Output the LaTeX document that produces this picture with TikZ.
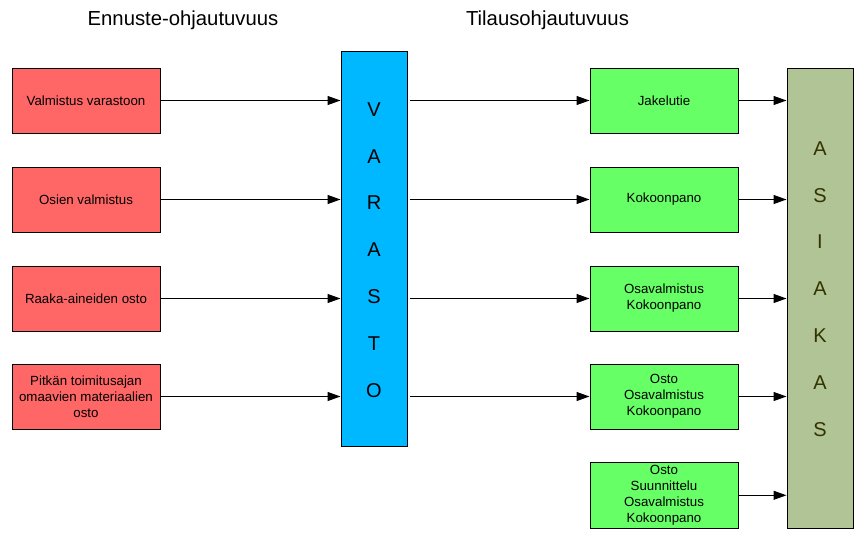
\documentclass[tikz,border=0pt]{standalone}
\usepackage{fontspec}
\setmainfont{Liberation Sans}
\usetikzlibrary{arrows.meta}
\definecolor{redbox}{RGB}{255,102,102}
\definecolor{bluebox}{RGB}{0,184,255}
\definecolor{greenbox}{RGB}{102,255,102}
\definecolor{olivebox}{RGB}{176,196,150}
\definecolor{olivetext}{RGB}{51,51,0}
\tikzset{
  x=1pt, y=-1pt,
  box/.style={draw=black, line width=1pt, minimum width=148pt, minimum height=65pt,
    inner sep=0pt, align=center, font=\fontsize{13.3}{16}\selectfont},
  redstep/.style={box, fill=redbox},
  greenstep/.style={box, fill=greenbox},
  tallbox/.style={draw=black, line width=1pt, minimum width=66pt, inner sep=0pt},
  letters/.style={align=center, inner sep=0pt, font=\fontsize{20}{46.8}\selectfont},
  header/.style={anchor=base, inner sep=0pt, font=\fontsize{20.3}{24}\selectfont},
  arr/.style={line width=1pt, -{Triangle[length=13pt,width=9pt]}}
}
\begin{document}
\begin{tikzpicture}
\useasboundingbox (0,0) rectangle (867,549);
% headers
\node[header] (h1) at (183,25) {Ennuste-ohjautuvuus};
\node[header] (h2) at (547.5,25) {Tilausohjautuvuus};
% left boxes
\node[redstep] (l1) at (86,100.5) {Valmistus varastoon};
\node[redstep] (l2) at (86,199.5) {Osien valmistus};
\node[redstep] (l3) at (86,298.5) {Raaka-aineiden osto};
\node[redstep] (l4) at (86,396.5) {Pitkän toimitusajan\\omaavien materiaalien\\osto};
% VARASTO
\node[tallbox, fill=bluebox, minimum height=395pt] (var) at (374,248.5) {};
\node[letters] (vart) at (374,250) {V\\A\\R\\A\\S\\T\\O};
% right green boxes
\node[greenstep] (g1) at (664,100.5) {Jakelutie};
\node[greenstep] (g2) at (664,199.5) {Kokoonpano};
\node[greenstep] (g3) at (664,298.5) {Osavalmistus\\Kokoonpano};
\node[greenstep] (g4) at (664,396.5) {Osto\\Osavalmistus\\Kokoonpano};
\node[greenstep, minimum height=66pt] (g5) at (664,495.3) {Osto\\Suunnittelu\\Osavalmistus\\Kokoonpano};
% ASIAKAS
\node[tallbox, fill=olivebox, minimum height=460pt] (asi) at (820,298) {};
\node[letters, text=olivetext] (asit) at (820,289) {A\\S\\I\\A\\K\\A\\S};
% arrows left -> VARASTO
\foreach \n in {l1,l2,l3,l4}
  \draw[arr] (\n.east) -- (\n.east -| var.west);
% VARASTO -> green
\foreach \n in {g1,g2,g3,g4}
  \draw[arr, shorten <=2pt] (\n.west -| var.east) -- (\n.west);
% green -> ASIAKAS
\foreach \n in {g1,g2,g3,g4,g5}
  \draw[arr] (\n.east) -- (\n.east -| asi.west);
\end{tikzpicture}
\end{document}
